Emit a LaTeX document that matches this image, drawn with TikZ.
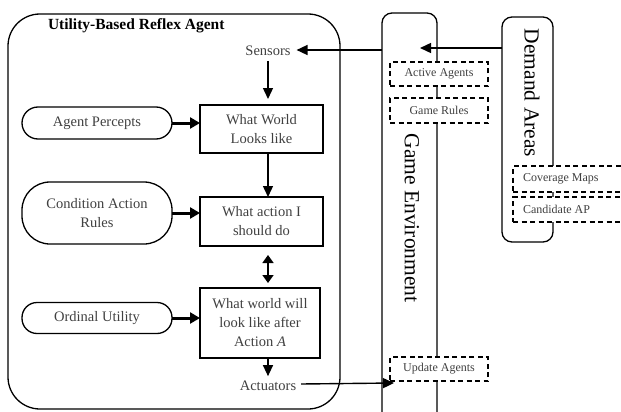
\documentclass[tikz,border=0pt]{standalone}
\usepackage{fontspec}
\setmainfont{Liberation Serif}
\usetikzlibrary{arrows.meta,calc}
\begin{document}
\begin{tikzpicture}[x=1pt,y=-1pt,
  every node/.style={inner sep=0pt, outer sep=0pt, align=center},
  maintext/.style={font=\fontsize{14.5}{19}\selectfont, text=black!75},
  smalltext/.style={font=\fontsize{12}{14}\selectfont, text=black!75},
  bigtext/.style={font=\fontsize{21.5}{24}\selectfont},
  boxstep/.style={draw, line width=1.3pt, maintext},
  pill/.style={draw, line width=1.3pt, maintext},
  dbox/.style={draw, fill=white, line width=1.4pt, dash pattern=on 5pt off 3.5pt},
  frame/.style={draw, line width=1.3pt},
  arr/.style={line width=1.4pt, -{Triangle[length=11pt,width=10pt]}},
  tarr/.style={line width=3pt, -{Triangle[length=10pt,width=11pt]}}
]
\useasboundingbox (0,0) rectangle (621,412);
% agent frame
\draw[frame, rounded corners=32pt] (8,14) rectangle (340,409);
\node[font=\bfseries\fontsize{15.5}{18}\selectfont, anchor=west] (title) at (48,26) {Utility-Based Reflex Agent};
% game environment and demand areas
\draw[frame, rounded corners=10pt] (382,13) rectangle (437,440);
\node (ge) at (409.5,226) [minimum width=55pt, minimum height=420pt] {};
\node[bigtext, rotate=-90] (getext) at (412,218) {Game Environment};
\draw[frame, rounded corners=10pt] (502,17) rectangle (553,242);
\node (dem) at (527.5,129.5) [minimum width=51pt, minimum height=225pt] {};
\node[bigtext, rotate=-90] (demtext) at (532,93) {Demand Areas};
% agent internals
\node[maintext] (sensors) at (268,51) {Sensors};
\node[boxstep, minimum width=123pt, minimum height=48pt] (ww) at (261.5,129) {What World\\Looks like};
\node[boxstep, minimum width=123pt, minimum height=49pt] (wa) at (261.5,221.5) {What action I\\should do};
\node[boxstep, minimum width=120pt, minimum height=70pt] (wl) at (260,323) {What world will\\look like after\\Action \textit{A}};
\node[maintext] (act) at (268,386) {Actuators};
\node[pill, rounded corners=16pt, minimum width=150pt, minimum height=32pt] (ap) at (97,123) {Agent Percepts};
\node[pill, rounded corners=28pt, minimum width=150pt, minimum height=62pt] (car) at (97,213) {Condition Action\\Rules};
\node[pill, rounded corners=15pt, minimum width=150pt, minimum height=31pt] (ou) at (97,318) {Ordinal Utility};
% dashed boxes
\node[dbox, smalltext, minimum width=98pt, minimum height=24pt] (aa) at (439,74) {Active Agents};
\node[dbox, smalltext, minimum width=98pt, minimum height=25pt] (gr) at (439,110.5) {Game Rules};
\node[dbox, smalltext, minimum width=98pt, minimum height=24pt] (ua) at (439,369) {Update Agents};
\node[dbox, minimum width=130pt, minimum height=26pt] (cm) at (578,179) {};
\node[dbox, minimum width=130pt, minimum height=25pt] (cap) at (578,209.5) {};
\node[smalltext, anchor=west] (cmt) at (523,179) {Coverage Maps};
\node[smalltext, anchor=west] (capt) at (523,209.5) {Candidate AP};
% connectors
\coordinate (gein) at (420,48);
\coordinate (uain) at (394,383);
\coordinate (sensin) at ($(sensors.east)+(6,-1)$);
\coordinate (sensout) at ($(sensors.south)+(0,5)$);
\coordinate (wwin) at ($(ww.north -| sensors)+(0,-6)$);
\coordinate (dtop) at ($(wa.south -| sensors)+(0,9)$);
\coordinate (dbot) at ($(wl.north -| sensors)+(0,-5)$);
\coordinate (actin) at ($(act.north)+(0,-5)$);
\coordinate (actout) at ($(act.east)+(5,-2)$);
\draw[arr] (ge.west |- sensin) -- (sensin);
\draw[arr] (dem.west |- gein) -- (gein);
\draw[arr] (sensout) -- (wwin);
\draw[arr] (ww.south -| sensors) -- (wa.north -| sensors);
\draw[line width=1.6pt, {Triangle[length=8pt,width=11pt]}-{Triangle[length=8pt,width=11pt]}] (dtop) -- (dbot);
\draw[arr] (wl.south -| sensors) -- (actin);
\draw[arr] (actout) -- (uain);
\draw[tarr] (ap.east) -- (ww.west |- ap.east);
\draw[tarr] (car.east) -- (wa.west |- car.east);
\draw[tarr] (ou.east) -- (wl.west |- ou.east);
\end{tikzpicture}
\end{document}
